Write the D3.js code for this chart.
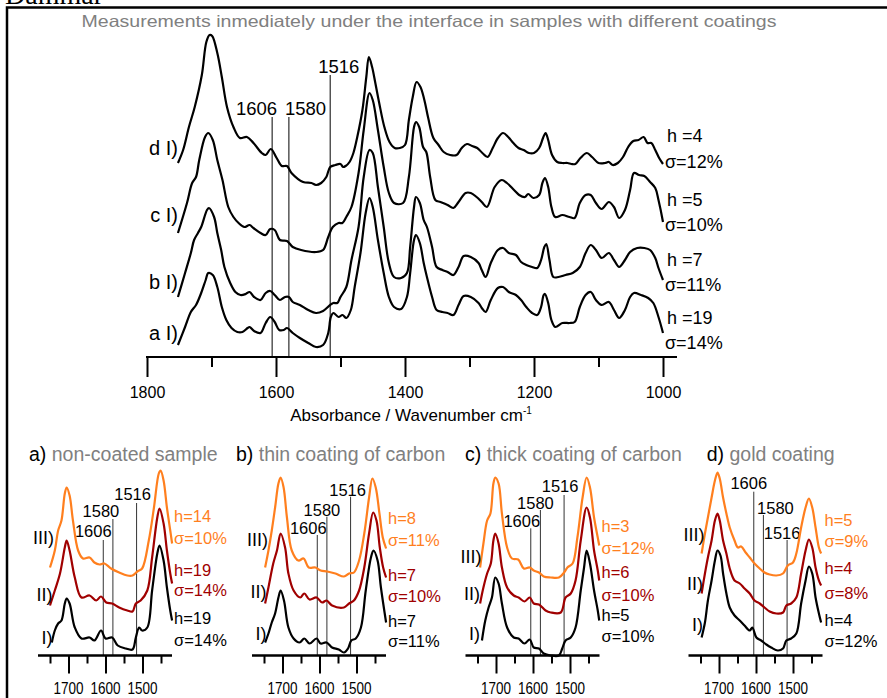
<!DOCTYPE html>
<html>
<head>
<meta charset="utf-8">
<script src="https://cdn.jsdelivr.net/npm/d3@7"></script>
<style>
  body { margin: 0; background: #fff; }
  svg { display: block; }
  text { font-family: 'Liberation Sans', Arial, Helvetica, sans-serif; }
</style>
</head>
<body>
<svg id="chart" width="887" height="698"></svg>
<script>
// ---------------- data ----------------
const figureName = "Dammar";
const mainTitle = "Measurements inmediately under the interface in samples with different coatings";
const axisTitle = "Absorbance / Wavenumber cm";

// main chart: FTIR spectra [wavenumber cm-1, absorbance (a.u.)]
const mainA = [[1752,12],[1741,30],[1732,45],[1724,52],[1716,64],[1709,77],[1705,84],[1698,82],[1691,70],[1684,50],[1677,37],[1669,29],[1660,25],[1652,25],[1644,29],[1641,30],[1634,26],[1624,24],[1616,34],[1609,40],[1602,35],[1595,27],[1588,27],[1583,29],[1574,24],[1563,19],[1550,14],[1538,10],[1527,12],[1519,24],[1515,40],[1511,44],[1503,40],[1497,42],[1491,39],[1484,47],[1478,70],[1469,104],[1461,144],[1455,159],[1450,150],[1442,117],[1433,84],[1425,60],[1417,50],[1406,48],[1397,60],[1392,84],[1386,117],[1383,122],[1377,114],[1371,94],[1366,80],[1358,60],[1351,47],[1342,45],[1334,44],[1325,42],[1317,52],[1309,61],[1298,60],[1286,54],[1281,49],[1275,45],[1267,57],[1256,69],[1248,70],[1239,65],[1228,62],[1220,57],[1212,50],[1203,44],[1195,42],[1189,50],[1185,62],[1183,63],[1178,54],[1173,37],[1167,30],[1156,34],[1145,34],[1137,35],[1129,50],[1120,62],[1112,65],[1104,57],[1095,52],[1084,55],[1076,47],[1068,39],[1059,47],[1051,60],[1045,64],[1034,62],[1023,59],[1015,54],[1007,40],[1000,24]];
const mainB = [[1752,10],[1741,34],[1732,54],[1727,67],[1721,74],[1716,80],[1707,97],[1704,99],[1696,90],[1691,74],[1685,57],[1680,40],[1671,24],[1663,15],[1655,12],[1647,13],[1641,15],[1634,10],[1624,7],[1616,14],[1609,16],[1602,12],[1594,7],[1586,10],[1580,10],[1574,5],[1563,2],[1550,-3],[1538,-6],[1527,-4],[1516,2],[1511,4],[1505,4],[1500,10],[1491,20],[1483,47],[1472,80],[1464,130],[1455,157],[1450,154],[1442,120],[1433,80],[1425,44],[1417,30],[1406,29],[1397,34],[1392,60],[1386,100],[1383,110],[1377,104],[1371,87],[1366,80],[1358,60],[1351,40],[1342,37],[1334,35],[1325,32],[1317,40],[1309,51],[1298,50],[1286,44],[1281,37],[1275,30],[1267,44],[1256,57],[1248,59],[1239,54],[1228,52],[1220,45],[1212,42],[1203,40],[1195,39],[1189,47],[1184,60],[1181,63],[1176,47],[1170,30],[1162,30],[1151,32],[1140,34],[1129,40],[1120,54],[1112,62],[1104,57],[1095,49],[1084,54],[1076,47],[1068,40],[1059,47],[1051,55],[1040,59],[1029,59],[1020,57],[1012,49],[1007,39],[1000,27]];
const mainC = [[1752,14],[1738,44],[1730,64],[1724,70],[1719,87],[1710,110],[1705,114],[1698,107],[1691,87],[1683,67],[1674,40],[1666,30],[1658,24],[1649,20],[1641,22],[1635,19],[1624,14],[1616,12],[1609,18],[1602,17],[1594,7],[1583,6],[1574,0],[1561,-3],[1538,-5],[1527,-3],[1519,10],[1512,20],[1503,24],[1497,24],[1491,30],[1483,40],[1472,74],[1464,117],[1455,154],[1450,147],[1442,117],[1433,80],[1425,54],[1417,44],[1403,44],[1394,70],[1386,120],[1383,125],[1378,120],[1372,100],[1367,95],[1361,70],[1353,47],[1345,45],[1334,42],[1325,39],[1317,45],[1306,54],[1298,54],[1289,50],[1281,45],[1273,40],[1261,60],[1250,67],[1242,64],[1231,57],[1223,52],[1214,50],[1209,53],[1201,49],[1192,52],[1187,64],[1183,69],[1178,60],[1173,40],[1167,30],[1156,32],[1145,30],[1137,29],[1129,44],[1120,52],[1112,52],[1104,44],[1095,38],[1084,45],[1076,40],[1068,29],[1059,37],[1051,57],[1045,74],[1037,72],[1029,71],[1020,65],[1012,59],[1007,47],[1000,25]];
const mainD = [[1752,14],[1744,27],[1735,50],[1726,70],[1715,102],[1708,135],[1703,142],[1699,141],[1691,124],[1684,100],[1676,70],[1666,50],[1656,39],[1645,40],[1635,34],[1622,24],[1616,22],[1608,28],[1599,19],[1591,11],[1583,11],[1576,4],[1558,-5],[1545,-6],[1538,-8],[1530,-6],[1522,0],[1516,10],[1508,12],[1500,13],[1496,10],[1492,11],[1486,15],[1480,24],[1474,40],[1466,67],[1460,100],[1456,120],[1451,110],[1446,94],[1440,74],[1432,50],[1424,35],[1416,29],[1408,29],[1400,32],[1394,57],[1388,80],[1382,95],[1376,90],[1370,77],[1364,59],[1356,39],[1348,32],[1340,25],[1330,22],[1320,22],[1312,29],[1304,33],[1296,31],[1288,29],[1280,24],[1272,20],[1264,29],[1256,39],[1248,44],[1240,40],[1232,34],[1224,29],[1216,27],[1208,24],[1200,24],[1192,29],[1186,39],[1182,44],[1178,37],[1172,22],[1164,15],[1156,14],[1148,14],[1142,13],[1136,13],[1128,19],[1118,24],[1110,20],[1100,14],[1090,14],[1084,15],[1078,12],[1070,14],[1062,20],[1054,30],[1046,36],[1038,37],[1030,40],[1024,34],[1018,34],[1012,27],[1006,19],[1000,13]];

const mainNames = ["a I)", "b I)", "c I)", "d I)"];
const mainH = ["h =19", "h =7", "h =5", "h =4"];
const mainSigma = ["\u03c3=14%", "\u03c3=11%", "\u03c3=10%", "\u03c3=12%"];
const mainStack = [0, 50, 110, 180];           // vertical stacking of the spectra
const markerBands = [1606, 1580, 1516];        // reference bands, cm-1
const mainTicks = [1800, 1700, 1600, 1500, 1400, 1300, 1200, 1100, 1000];
const mainTickLabels = [1800, 1600, 1400, 1200, 1000];

// small panels: sample I, II, III per coating
const panelLetters = ["a)", "b)", "c)", "d)"];
const panelTitles = ["non-coated sample", "thin coating of carbon", "thick coating of carbon", "gold coating"];
const sampleNames = ["I)", "II)", "III)"];
const panelH = [["h=19", "h=19", "h=14"], ["h=7", "h=7", "h=8"], ["h=5", "h=6", "h=3"], ["h=4", "h=4", "h=5"]];
const panelSigma = [["\u03c3=14%", "\u03c3=14%", "\u03c3=10%"], ["\u03c3=11%", "\u03c3=10%", "\u03c3=11%"], ["\u03c3=10%", "\u03c3=10%", "\u03c3=12%"], ["\u03c3=12%", "\u03c3=8%", "\u03c3=9%"]];
const sampleStack = [0, 40, 75];
const panelTicks = [1750, 1700, 1650, 1600, 1550, 1500, 1450];
const panelTickLabels = [1700, 1600, 1500];

const aI = [[1745,13],[1737,25],[1728,32],[1719,35],[1710,52],[1705,57],[1697,52],[1683,28],[1665,17],[1643,18],[1630,15],[1612,25],[1600,17],[1582,18],[1567,10],[1545,7],[1527,6],[1518,18],[1509,28],[1501,25],[1487,28],[1474,65],[1460,102],[1454,110],[1443,95],[1434,68],[1425,45],[1420,35]];
const aII = [[1750,10],[1737,25],[1723,42],[1710,68],[1705,75],[1697,65],[1683,38],[1665,18],[1643,20],[1625,15],[1612,19],[1598,13],[1582,12],[1563,8],[1541,5],[1527,4],[1518,12],[1505,15],[1487,25],[1474,58],[1460,98],[1454,107],[1443,92],[1434,65],[1425,42],[1420,32]];
const aIII = [[1750,13],[1737,30],[1728,50],[1719,60],[1710,87],[1705,93],[1697,85],[1688,60],[1674,30],[1661,22],[1643,23],[1630,18],[1616,16],[1603,17],[1585,12],[1563,8],[1541,5],[1527,5],[1514,9],[1501,12],[1483,40],[1469,73],[1456,107],[1451,110],[1443,100],[1434,73],[1425,50],[1420,37]];
const bI = [[1747,13],[1738,22],[1729,33],[1720,42],[1711,58],[1705,65],[1696,55],[1684,28],[1670,17],[1654,13],[1641,17],[1627,12],[1608,17],[1597,12],[1581,13],[1566,8],[1548,6],[1534,3],[1523,7],[1514,15],[1502,17],[1488,28],[1475,65],[1461,98],[1454,105],[1443,95],[1434,68],[1420,33]];
const bII = [[1747,12],[1738,28],[1725,52],[1715,65],[1705,82],[1693,68],[1684,42],[1670,25],[1652,18],[1641,22],[1627,16],[1608,18],[1593,13],[1581,15],[1566,10],[1534,8],[1520,12],[1507,15],[1493,25],[1479,48],[1466,82],[1455,103],[1446,95],[1437,68],[1428,48],[1420,38]];
const bIII = [[1747,13],[1738,30],[1729,50],[1720,73],[1711,97],[1705,103],[1697,93],[1688,63],[1675,30],[1657,20],[1643,22],[1629,13],[1611,13],[1597,10],[1579,9],[1557,7],[1534,4],[1520,7],[1507,8],[1493,20],[1479,47],[1466,83],[1457,102],[1448,93],[1438,67],[1429,43],[1420,32]];
const cI = [[1738,15],[1729,35],[1720,48],[1711,58],[1702,78],[1693,72],[1684,52],[1670,28],[1652,18],[1639,17],[1623,12],[1609,16],[1598,8],[1584,7],[1571,2],[1552,0],[1530,0],[1521,7],[1512,15],[1498,18],[1485,28],[1471,65],[1462,88],[1455,105],[1446,92],[1435,65],[1425,45],[1421,35]];
const cII = [[1743,12],[1734,28],[1724,42],[1714,52],[1707,75],[1702,82],[1693,72],[1684,48],[1670,28],[1652,20],[1639,18],[1623,14],[1609,18],[1598,12],[1584,11],[1566,5],[1552,3],[1525,3],[1512,18],[1498,22],[1485,35],[1471,75],[1455,108],[1446,98],[1435,65],[1425,45],[1421,35]];
const cIII = [[1743,13],[1734,37],[1724,60],[1715,67],[1707,97],[1702,103],[1693,97],[1684,67],[1670,33],[1657,22],[1640,21],[1625,12],[1609,13],[1598,10],[1584,8],[1571,4],[1552,3],[1530,3],[1516,8],[1507,13],[1493,17],[1480,43],[1466,83],[1455,103],[1446,93],[1435,63],[1425,43],[1421,35]];
const dI = [[1747,18],[1738,33],[1730,55],[1720,75],[1711,95],[1704,105],[1696,100],[1689,82],[1680,62],[1671,48],[1658,40],[1644,35],[1631,30],[1617,25],[1610,28],[1599,18],[1586,15],[1572,11],[1559,8],[1541,5],[1527,7],[1518,15],[1505,17],[1491,22],[1478,52],[1466,75],[1457,89],[1448,82],[1439,58],[1430,42],[1424,33]];
const dII = [[1747,22],[1738,42],[1730,58],[1720,75],[1711,95],[1704,102],[1698,95],[1689,75],[1680,62],[1671,47],[1658,35],[1644,32],[1631,27],[1617,22],[1604,15],[1590,12],[1577,8],[1563,4],[1545,2],[1527,3],[1518,10],[1505,12],[1491,18],[1478,42],[1466,65],[1457,76],[1448,68],[1439,48],[1430,35],[1424,30]];
const dIII = [[1747,27],[1738,47],[1730,63],[1720,83],[1711,100],[1704,108],[1698,102],[1689,83],[1680,67],[1671,53],[1658,40],[1649,33],[1640,34],[1628,28],[1617,23],[1604,17],[1590,12],[1577,8],[1563,6],[1545,5],[1527,7],[1514,15],[1500,18],[1491,27],[1478,53],[1466,73],[1457,82],[1448,73],[1439,53],[1430,33],[1424,27]];
const panelSpectra = [[aI, aII, aIII], [bI, bII, bIII], [cI, cII, cIII], [dI, dII, dIII]];

// ---------------- drawing ----------------
const svg = d3.select("#chart");
const ink = "#000";
const grey = "#808080";
const sampleColors = ["#000000", "#a00000", "#ff7f1e"];

svg.append("rect")
  .attr("x", 7).attr("y", 7.5).attr("width", 930).attr("height", 730)
  .attr("fill", "none").attr("stroke", ink).attr("stroke-width", 2.5);

// figure name, partly above the top edge of the page
svg.append("text")
  .attr("x", 5).attr("y", 4)
  .style("font-family", "'Liberation Serif', 'Times New Roman', serif")
  .attr("font-size", 28).text(figureName);

svg.append("text")
  .attr("x", 429).attr("y", 27).attr("text-anchor", "middle")
  .attr("fill", grey).attr("font-size", 16.5)
  .attr("textLength", 695).attr("lengthAdjust", "spacingAndGlyphs")
  .text(mainTitle);

// ---- main chart ----
const xMain = d3.scaleLinear().domain([1800, 1000]).range([147, 663]);
const yMain = d3.scaleLinear().domain([0, 337]).range([357, 20]);
const spectrumLine = (xs, ys, lift) => d3.line()
  .x(d => xs(d[0])).y(d => ys(d[1] + lift))
  .curve(d3.curveCatmullRom.alpha(0.5));

const main = svg.append("g");

// reference band lines and their labels
const mainBandTop = [117, 117, 75];
main.selectAll("line.band").data(markerBands).join("line")
  .attr("x1", d => xMain(d)).attr("x2", d => xMain(d))
  .attr("y1", (d, i) => mainBandTop[i]).attr("y2", yMain(0))
  .attr("stroke", ink).attr("stroke-width", 1);
const mainBandLabel = [
  { x: xMain(1606) + 5, y: 114.5, anchor: "end" },
  { x: xMain(1580) - 4, y: 114.5, anchor: "start" },
  { x: xMain(1516) - 12, y: 73, anchor: "start" }
];
markerBands.forEach((b, i) => {
  main.append("text").attr("x", mainBandLabel[i].x).attr("y", mainBandLabel[i].y)
    .attr("text-anchor", mainBandLabel[i].anchor).attr("font-size", 18.5).text(b);
});

const mainSpectra = [mainA, mainB, mainC, mainD];
mainSpectra.forEach((s, i) => {
  main.append("path").attr("d", spectrumLine(xMain, yMain, mainStack[i])(s))
    .attr("fill", "none").attr("stroke", ink).attr("stroke-width", 2.2)
    .attr("stroke-linejoin", "round");
});

// spectrum names on the left, h / sigma on the right
const mainNameY = [333, 282, 215, 148];
const mainHY = [318, 260, 200, 136];
const mainSY = [343, 285, 225, 162];
mainNames.forEach((n, i) => {
  main.append("text").attr("x", 178).attr("y", mainNameY[i]).attr("dy", "0.35em")
    .attr("text-anchor", "end").attr("font-size", 20).text(n);
  main.append("text").attr("x", 667).attr("y", mainHY[i]).attr("dy", "0.35em")
    .attr("font-size", 18).text(mainH[i]);
  main.append("text").attr("x", 665).attr("y", mainSY[i]).attr("dy", "0.35em")
    .attr("font-size", 18).text(mainSigma[i]);
});

// x axis
main.append("line").attr("x1", 146).attr("x2", 677).attr("y1", 357).attr("y2", 357)
  .attr("stroke", ink).attr("stroke-width", 2);
const axMajor = main.append("g").attr("transform", "translate(0,357)")
  .call(d3.axisBottom(xMain).tickValues(mainTickLabels).tickFormat(d3.format("d"))
    .tickSize(20).tickPadding(10).tickSizeOuter(0));
const axMinor = main.append("g").attr("transform", "translate(0,357)")
  .call(d3.axisBottom(xMain).tickValues(mainTicks.filter(t => !mainTickLabels.includes(t)))
    .tickSize(10).tickFormat("").tickSizeOuter(0));
[axMajor, axMinor].forEach(g => {
  g.select(".domain").remove();
  g.selectAll(".tick line").attr("stroke", ink).attr("stroke-width", 2);
  g.selectAll(".tick text").attr("font-size", 16).attr("fill", ink)
    .style("font-family", "'Liberation Sans', Arial, sans-serif");
});
const at = main.append("text").attr("x", 411).attr("y", 421).attr("text-anchor", "middle")
  .attr("font-size", 17).text(axisTitle);
at.append("tspan").attr("font-size", 10).attr("dy", -7).text("-1");

// ---- small panels ----
const panelX0 = [50, 264, 477.5, 700.5];     // x of 1750 cm-1
const panelWidth = 111;                       // 1750 -> 1450 cm-1
const axisY = 655.5;
const ySmall = d3.scaleLinear().domain([0, 200]).range([axisY, axisY - 200]);
const titleX = [29, 236, 465, 706.7];

// label placement per panel: [label centre y, line top y, label x shift] for 1606, 1580, 1516
const bandLayout = [
  [[531.7, 540, -10], [511.7, 519, -12], [494, 503, -4]],
  [[528.3, 535, -9], [510, 516.7, -5], [490, 496.7, -3]],
  [[521.7, 528.3, -9], [503.3, 510, -5], [486.7, 495, -4]],
  [[483.3, 491.7, -5], [508.3, 515, 12], [533.3, 540, -5]]
];
const nameY = [[638, 595, 538], [633.3, 591.7, 540], [633.3, 594, 556.7], [625, 583.3, 535]];
const hY = [[618.3, 570, 516.7], [621.7, 575, 518.3], [615, 572.3, 526.7], [620, 568.3, 520]];
const sY = [[640, 590, 538.3], [641.7, 596.7, 540], [636.7, 595, 548.3], [641.7, 593.3, 541.7]];

panelSpectra.forEach((spectra, p) => {
  const g = svg.append("g");
  const xs = d3.scaleLinear().domain([1750, 1450]).range([panelX0[p], panelX0[p] + panelWidth]);

  const title = g.append("text").attr("x", titleX[p]).attr("y", 461).attr("font-size", 19.5);
  title.append("tspan").attr("fill", ink).text(panelLetters[p] + " ");
  title.append("tspan").attr("fill", grey).text(panelTitles[p]);

  markerBands.forEach((b, i) => {
    const [ly, top, dx] = bandLayout[p][i];
    g.append("line").attr("x1", xs(b)).attr("x2", xs(b)).attr("y1", top).attr("y2", axisY)
      .attr("stroke", "#333").attr("stroke-width", 1);
    g.append("text").attr("x", xs(b) + dx).attr("y", ly).attr("dy", "0.35em")
      .attr("text-anchor", "middle").attr("font-size", 16.5).text(b);
  });

  spectra.forEach((s, k) => {
    g.append("path").attr("d", spectrumLine(xs, ySmall, sampleStack[k])(s))
      .attr("fill", "none").attr("stroke", sampleColors[k]).attr("stroke-width", 2.2)
      .attr("stroke-linejoin", "round");
    g.append("text").attr("x", panelX0[p] + (k === 2 ? 4 : 2.5)).attr("y", nameY[p][k]).attr("dy", "0.35em")
      .attr("text-anchor", "end").attr("font-size", 18).text(sampleNames[k]);
    g.append("text").attr("x", panelX0[p] + 124).attr("y", hY[p][k]).attr("dy", "0.35em")
      .attr("fill", sampleColors[k]).attr("font-size", 16.5).text(panelH[p][k]);
    g.append("text").attr("x", panelX0[p] + 124).attr("y", sY[p][k]).attr("dy", "0.35em")
      .attr("fill", sampleColors[k]).attr("font-size", 16.5).text(panelSigma[p][k]);
  });

  g.append("line").attr("x1", xs(1750) - 12).attr("x2", xs(1450) + 11)
    .attr("y1", axisY).attr("y2", axisY).attr("stroke", ink).attr("stroke-width", 2.5);
  const ax = g.append("g").attr("transform", `translate(0,${axisY})`)
    .call(d3.axisBottom(xs).tickValues(panelTicks).tickSizeOuter(0)
      .tickSize(8).tickFormat(""));
  ax.select(".domain").remove();
  ax.selectAll(".tick line").attr("stroke", ink).attr("stroke-width", 2)
    .attr("y2", d => panelTickLabels.includes(d) ? 18 : 8);
  panelTickLabels.forEach(t => {
    g.append("text").attr("x", xs(t)).attr("y", 694).attr("text-anchor", "middle")
      .attr("font-size", 16).attr("textLength", 30).attr("lengthAdjust", "spacingAndGlyphs")
      .text(t);
  });
});
</script>
</body>
</html>
